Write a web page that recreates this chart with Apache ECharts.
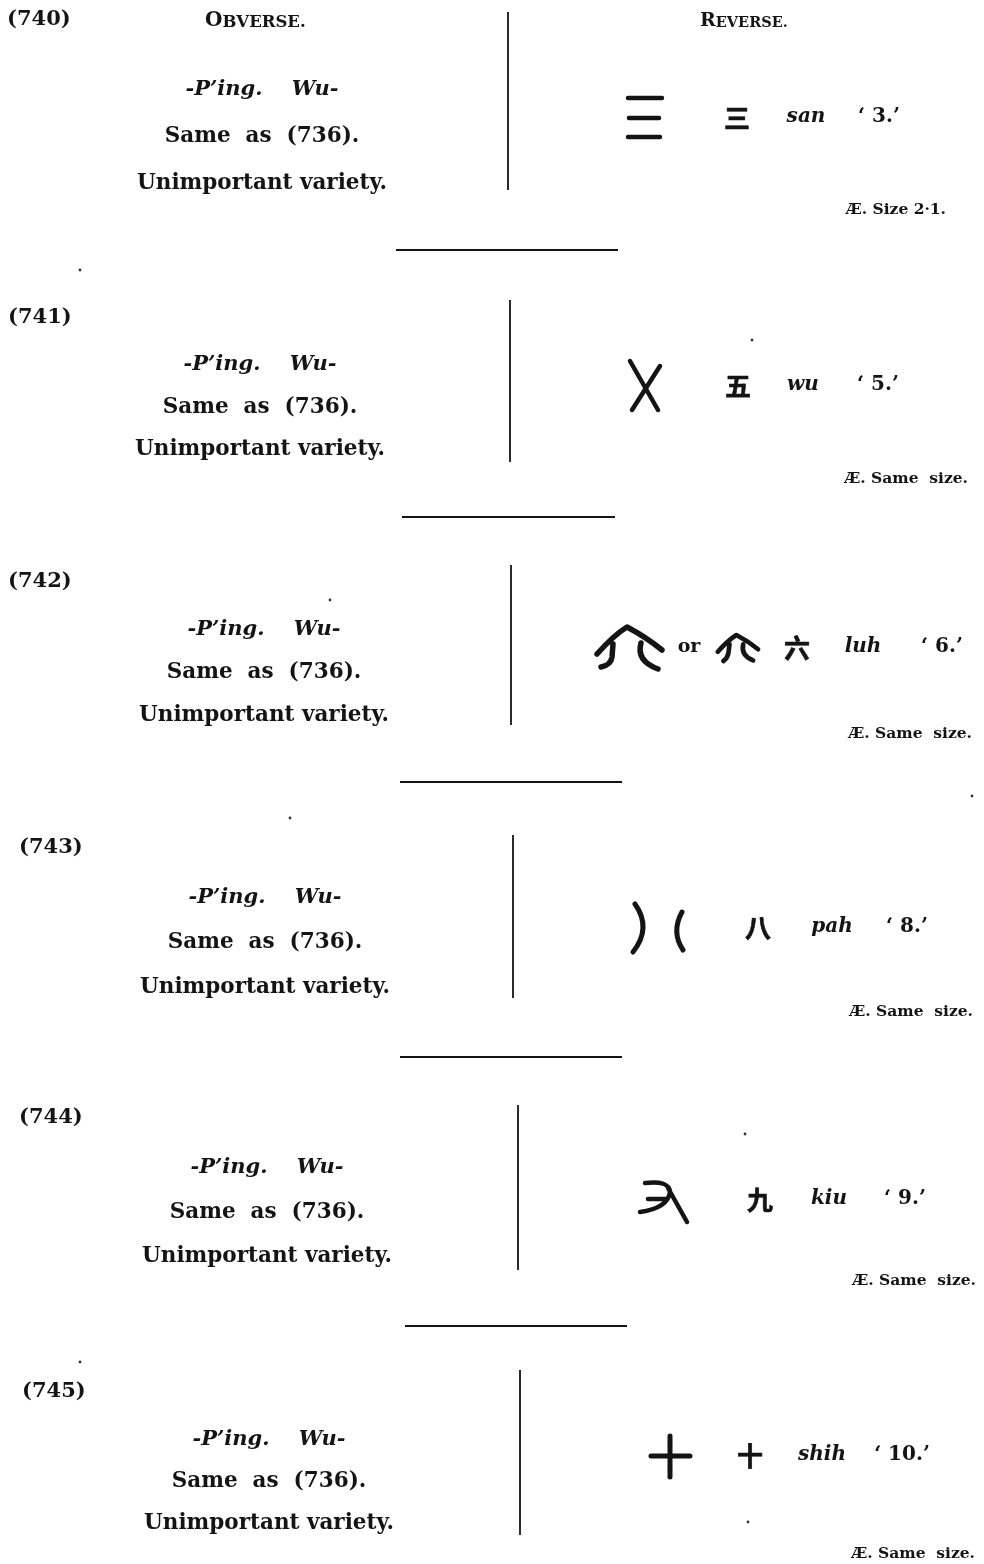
<!DOCTYPE html>
<html>
<head>
<meta charset="utf-8">
<script src="https://cdn.jsdelivr.net/npm/echarts@6/dist/echarts.min.js"></script>
<style>
html,body{margin:0;padding:0;background:#ffffff;}
#chart{width:984px;height:1564px;}
</style>
</head>
<body>
<div id="chart"></div>
<script>
// ---------------- DATA ----------------
const entryNumbers = ['(740)', '(741)', '(742)', '(743)', '(744)', '(745)'];
const columnHeaders = [['O', 'BVERSE.'], ['R', 'EVERSE.']];
const obverseInscriptions = ['-P\u2019ing.    Wu-', '-P\u2019ing.    Wu-', '-P\u2019ing.    Wu-', '-P\u2019ing.    Wu-', '-P\u2019ing.    Wu-', '-P\u2019ing.    Wu-'];
const obverseComparisons = ['Same  as  (736).', 'Same  as  (736).', 'Same  as  (736).', 'Same  as  (736).', 'Same  as  (736).', 'Same  as  (736).'];
const obverseRemarks = ['Unimportant variety.', 'Unimportant variety.', 'Unimportant variety.', 'Unimportant variety.', 'Unimportant variety.', 'Unimportant variety.'];
const archaicForms = [['three'], ['cross'], ['luhA', 'luhB'], ['brackets'], ['hook'], ['plus']];
const alternativeWord = 'or';
const modernCharacters = ['三', '五', '六', '八', '九', '十'];
const romanizations = ['san', 'wu', 'luh', 'pah', 'kiu', 'shih'];
const meanings = ['3.', '5.', '6.', '8.', '9.', '10.'];
const sizeNotes = ['Æ. Size 2·1.', 'Æ. Same  size.', 'Æ. Same  size.', 'Æ. Same  size.', 'Æ. Same  size.', 'Æ. Same  size.'];

// ---------------- LAYOUT (page positions, not data) ----------------
const L = {
  numX: [7, 8, 8, 19, 19, 22],
  numY: [20, 318, 582, 848, 1118, 1392],
  obvX: [262, 260, 264, 265, 267, 269],
  obvY: [90, 365, 630, 898, 1168, 1440],
  obvGap: [46.5, 42, 42.5, 44.5, 44, 41.5],
  ruleX: [508, 510, 511, 513, 518, 520],
  ruleY: [[12, 190], [300, 462], [565, 725], [835, 998], [1105, 1270], [1370, 1535]],
  revY: [118, 386, 648, 928, 1200, 1456],
  glyphX: [[645], [645], [628, 737], [658], [663], [670]],
  glyphScale: [[1], [1], [1, 0.62], [1], [1], [1]],
  orX: 689,
  charX: [737, 738, 797, 758, 760, 750],
  romX: [806, 803, 863, 832, 829, 822],
  meanX: [879, 878, 942, 907, 905, 902],
  noteRight: [946, 968, 972, 973, 976, 975],
  noteY: [210, 479, 734, 1012, 1281, 1554],
  sep: [[396, 618, 250], [402, 615, 517], [400, 622, 782], [400, 622, 1057], [405, 627, 1326]],
  headerX: [205, 700],
  headerSize: [[20, 16.5], [19, 14.5]],
  headerY: 21,
  specks: [[80, 270], [752, 340], [290, 818], [972, 796], [745, 1134], [80, 1362], [748, 1522], [330, 600]]
};

// glyph outlines (local shapes around the glyph's own centre)
const GLYPHS = {
  three: { w: 4.5, d: 'M-17,-20 L17,-20 M-16,0 L14,0 M-17,19 L15,19' },
  cross: { w: 4.5, d: 'M-15,-25 L13,24 M15,-20 L-13,24' },
  luhA: { w: 5.5, d: 'M-31,6 Q-14,-13 -1,-21 Q18,-11 34,2 M-15,-4 L-16,9 Q-17,17 -27,19 M13,-5 Q8,13 30,21' },
  luhB: { w: 7.5, d: 'M-31,6 Q-14,-13 -1,-21 Q18,-11 34,2 M-12,-6 L-14,9 Q-16,17 -22,21 M10,-6 Q6,12 26,20' },
  brackets: { w: 5, d: 'M-23,-24 Q-6,0 -25,24 M24,-16 Q13,4 25,22' },
  hook: { w: 4.5, d: 'M-18,-17 Q6,-20 7,-8 Q5,8 -23,12 M-15,-1 L3,-1 M5,-12 Q14,4 24,22' },
  plus: { w: 5, d: 'M-19,0 L20,0 M0,-20 L0,21' }
};

const INK = '#141414';
const SERIF = '"DejaVu Serif", "Liberation Serif", serif';
const CJK = '"Noto Sans CJK SC", "Noto Sans CJK TC", sans-serif';

function renderItem(params, api) {
  const i = api.value(0);
  const P = (x, y) => api.coord([x, y]);
  const kids = [];
  const text = (s, x, y, opt) => {
    const p = P(x, y);
    kids.push({
      type: 'text',
      style: Object.assign({
        text: s, x: p[0], y: p[1], fill: INK,
        fontFamily: SERIF, fontSize: 20, fontWeight: 'bold',
        align: 'center', verticalAlign: 'middle'
      }, opt || {})
    });
  };
  const line = (x1, y1, x2, y2, w) => {
    const a = P(x1, y1), b = P(x2, y2);
    kids.push({ type: 'line', shape: { x1: a[0], y1: a[1], x2: b[0], y2: b[1] },
      style: { stroke: INK, lineWidth: w } });
  };

  // header (first entry carries the column heads)
  if (i === 0) {
    columnHeaders.forEach((h, k) => {
      text('{a|' + h[0] + '}{b|' + h[1] + '}', L.headerX[k], L.headerY, {
        align: 'left',
        rich: {
          a: { fontFamily: SERIF, fontSize: L.headerSize[k][0], fontWeight: 'bold', fill: INK, verticalAlign: 'bottom' },
          b: { fontFamily: SERIF, fontSize: L.headerSize[k][1], fontWeight: 'bold', fill: INK, verticalAlign: 'bottom' }
        }
      });
    });
  }

  // entry number
  text(entryNumbers[i], L.numX[i], L.numY[i], { align: 'left', fontSize: 21 });

  // obverse
  const ox = L.obvX[i], oy = L.obvY[i], g = L.obvGap[i];
  text(obverseInscriptions[i], ox, oy, { fontStyle: 'italic', fontSize: 21 });
  text(obverseComparisons[i], ox, oy + g, { fontSize: 21.5 });
  text(obverseRemarks[i], ox, oy + 2 * g, { fontSize: 21.5 });

  // vertical rule between obverse and reverse
  line(L.ruleX[i], L.ruleY[i][0], L.ruleX[i], L.ruleY[i][1], 1.8);

  // reverse: archaic forms
  const ry = L.revY[i];
  archaicForms[i].forEach((name, k) => {
    const gl = GLYPHS[name];
    const p = P(L.glyphX[i][k], ry);
    const s = L.glyphScale[i][k];
    kids.push({
      type: 'path', x: p[0], y: p[1], scaleX: s, scaleY: s,
      shape: { pathData: gl.d },
      style: { stroke: INK, lineWidth: gl.w, fill: 'none', lineCap: 'round', lineJoin: 'round' }
    });
  });
  if (archaicForms[i].length > 1) {
    text(alternativeWord, L.orX, ry - 1, { fontSize: 19 });
  }

  // modern character, romanization, meaning
  text(modernCharacters[i], L.charX[i], ry, {
    fontFamily: CJK, fontSize: 26, fontWeight: 'bold', stroke: INK, lineWidth: 0.6
  });
  text(romanizations[i], L.romX[i], ry - 1, { fontStyle: 'italic', fontSize: 20 });
  text('\u2018 ' + meanings[i] + '\u2019', L.meanX[i], ry - 1, { fontSize: 20 });

  // size note
  text(sizeNotes[i], L.noteRight[i], L.noteY[i], { align: 'right', fontSize: 15.5 });

  // separator rule after the entry
  if (i < L.sep.length) {
    line(L.sep[i][0], L.sep[i][2], L.sep[i][1], L.sep[i][2], 1.8);
  }

  // scan specks
  if (i === 0) {
    L.specks.forEach(s => {
      const p = P(s[0], s[1]);
      kids.push({ type: 'circle', shape: { cx: p[0], cy: p[1], r: 1.4 }, style: { fill: '#333' } });
    });
  }

  return { type: 'group', children: kids };
}

const chart = echarts.init(document.getElementById('chart'), null, { renderer: 'canvas' });
chart.setOption({
  backgroundColor: '#ffffff',
  animation: false,
  grid: { left: 0, right: 0, top: 0, bottom: 0 },
  xAxis: { type: 'value', min: 0, max: 984, show: false },
  yAxis: { type: 'value', min: 0, max: 1564, inverse: true, show: false },
  series: [{
    type: 'custom',
    renderItem: renderItem,
    clip: false,
    data: entryNumbers.map((_, i) => [i, i])
  }]
});
</script>
</body>
</html>
